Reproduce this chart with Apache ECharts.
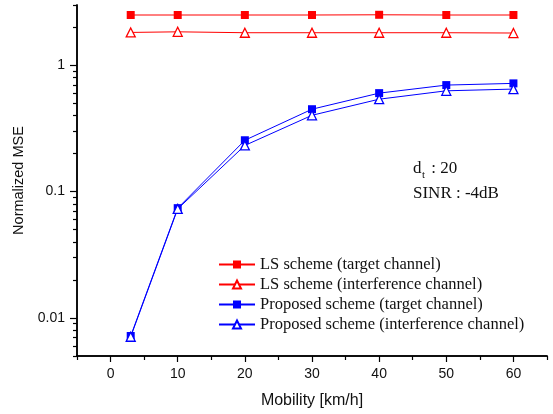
<!DOCTYPE html>
<html>
<head>
<meta charset="utf-8">
<script src="https://cdn.jsdelivr.net/npm/echarts@6/dist/echarts.min.js"></script>
<style>html,body{margin:0;padding:0;background:#fff}#c{width:553px;height:414px}</style>
</head>
<body>
<div id="c"></div>
<script>
var mobility = [3, 10, 20, 30, 40, 50, 60];
var lsTarget = [2.50, 2.50, 2.50, 2.50, 2.51, 2.50, 2.50];
var lsInterf = [1.82, 1.84, 1.81, 1.81, 1.81, 1.81, 1.80];
var propTarget = [0.0072, 0.074, 0.255, 0.449, 0.602, 0.697, 0.719];
var propInterf = [0.0071, 0.073, 0.232, 0.402, 0.539, 0.628, 0.648];
var seriesNames = ['LS scheme (target channel)', 'LS scheme (interference channel)', 'Proposed scheme (target channel)', 'Proposed scheme (interference channel)'];
var xMajor = [0, 10, 20, 30, 40, 50, 60];
var xMinor = [-5, 5, 15, 25, 35, 45, 55, 65];
var yMajor = [0.01, 0.1, 1];
var yMinor = [0.005, 0.006, 0.007, 0.008, 0.009, 0.02, 0.03, 0.04, 0.05, 0.06, 0.07, 0.08, 0.09, 0.2, 0.3, 0.4, 0.5, 0.6, 0.7, 0.8, 0.9, 2, 3];

function pairs(ys) { return mobility.map(function (x, i) { return [x, ys[i]]; }); }

var chart = echarts.init(document.getElementById('c'), null, {renderer: 'canvas'});
var axisFont = {fontFamily: 'Liberation Sans, Arial', fontSize: 14, color: '#111'};
var lineStyleAxis = {color: '#000', width: 1.5};
var opt = {
  animation: false,
  backgroundColor: '#fff',
  grid: {left: 77, top: 5, right: 6, bottom: 58, containLabel: false},
  xAxis: [{
    type: 'value', min: -5, max: 65, position: 'bottom',
    axisLine: {show: true, onZero: false, lineStyle: lineStyleAxis},
    axisTick: {show: true, inside: false, length: 6, lineStyle: {color: '#000', width: 1.2}, customValues: xMajor},
    axisLabel: Object.assign({margin: 11, customValues: xMajor}, axisFont),
    splitLine: {show: false},
    name: 'Mobility [km/h]', nameLocation: 'middle', nameGap: 37,
    nameTextStyle: {fontFamily: 'Liberation Sans, Arial', fontSize: 16, color: '#111'}
  }, {
    type: 'value', min: -5, max: 65, position: 'bottom', offset: 0,
    axisLine: {show: true, onZero: false, lineStyle: lineStyleAxis},
    axisTick: {show: true, inside: false, length: 4, lineStyle: {color: '#000', width: 1.2}, customValues: xMinor},
    axisLabel: {show: false}, splitLine: {show: false}
  }],
  yAxis: [{
    type: 'log', min: 0.005, max: 3, logBase: 10, position: 'left',
    axisLine: {show: true, onZero: false, lineStyle: lineStyleAxis},
    axisTick: {show: true, inside: false, length: 7, lineStyle: {color: '#000', width: 1.2}, customValues: yMajor},
    axisLabel: Object.assign({margin: 12, customValues: yMajor, formatter: function (v) { return String(+v); }}, axisFont),
    splitLine: {show: false},
    name: 'Normalized MSE', nameLocation: 'middle', nameGap: 50, nameRotate: 90,
    nameTextStyle: {fontFamily: 'Liberation Sans, Arial', fontSize: 14.5, color: '#111'}
  }, {
    type: 'log', min: 0.005, max: 3, logBase: 10, position: 'left', offset: 0,
    axisLine: {show: true, onZero: false, lineStyle: lineStyleAxis},
    axisTick: {show: true, inside: false, length: 4, lineStyle: {color: '#000', width: 1.2}, customValues: yMinor},
    axisLabel: {show: false}, splitLine: {show: false}
  }],
  legend: {
    orient: 'vertical', left: 213, top: 251,
    itemWidth: 36, itemHeight: 10, itemGap: 3,
    textStyle: {fontFamily: 'Liberation Serif, Times New Roman', fontSize: 16.5, color: '#111'},
    data: seriesNames
  },
  graphic: [
    {type: 'text', left: 413, top: 160, style: {text: 'd', font: '17px Liberation Serif', fill: '#111'}},
    {type: 'text', left: 422, top: 170, style: {text: 't', font: '11px Liberation Serif', fill: '#111'}},
    {type: 'text', left: 427, top: 160, style: {text: ' : 20', font: '17px Liberation Serif', fill: '#111'}},
    {type: 'text', left: 413, top: 185, style: {text: 'SINR : -4dB', font: '17px Liberation Serif', fill: '#111'}}
  ],
  series: [
    {name: seriesNames[0], type: 'line', data: pairs(lsTarget), xAxisIndex: 0, yAxisIndex: 0,
      symbol: 'rect', symbolSize: 8, lineStyle: {color: '#ff0000', width: 1}, itemStyle: {color: '#ff0000', borderWidth: 0}},
    {name: seriesNames[1], type: 'line', data: pairs(lsInterf), xAxisIndex: 0, yAxisIndex: 0,
      symbol: 'triangle', symbolSize: 9, lineStyle: {color: '#ff0000', width: 1}, itemStyle: {color: '#fff', borderColor: '#ff0000', borderWidth: 1.3}},
    {name: seriesNames[2], type: 'line', data: pairs(propTarget), xAxisIndex: 0, yAxisIndex: 0,
      symbol: 'rect', symbolSize: 8, lineStyle: {color: '#0000ff', width: 1}, itemStyle: {color: '#0000ff', borderWidth: 0}},
    {name: seriesNames[3], type: 'line', data: pairs(propInterf), xAxisIndex: 0, yAxisIndex: 0,
      symbol: 'triangle', symbolSize: 9, lineStyle: {color: '#0000ff', width: 1}, itemStyle: {color: '#fff', borderColor: '#0000ff', borderWidth: 1.3}}
  ]
};
chart.setOption(opt);
</script>
</body>
</html>
